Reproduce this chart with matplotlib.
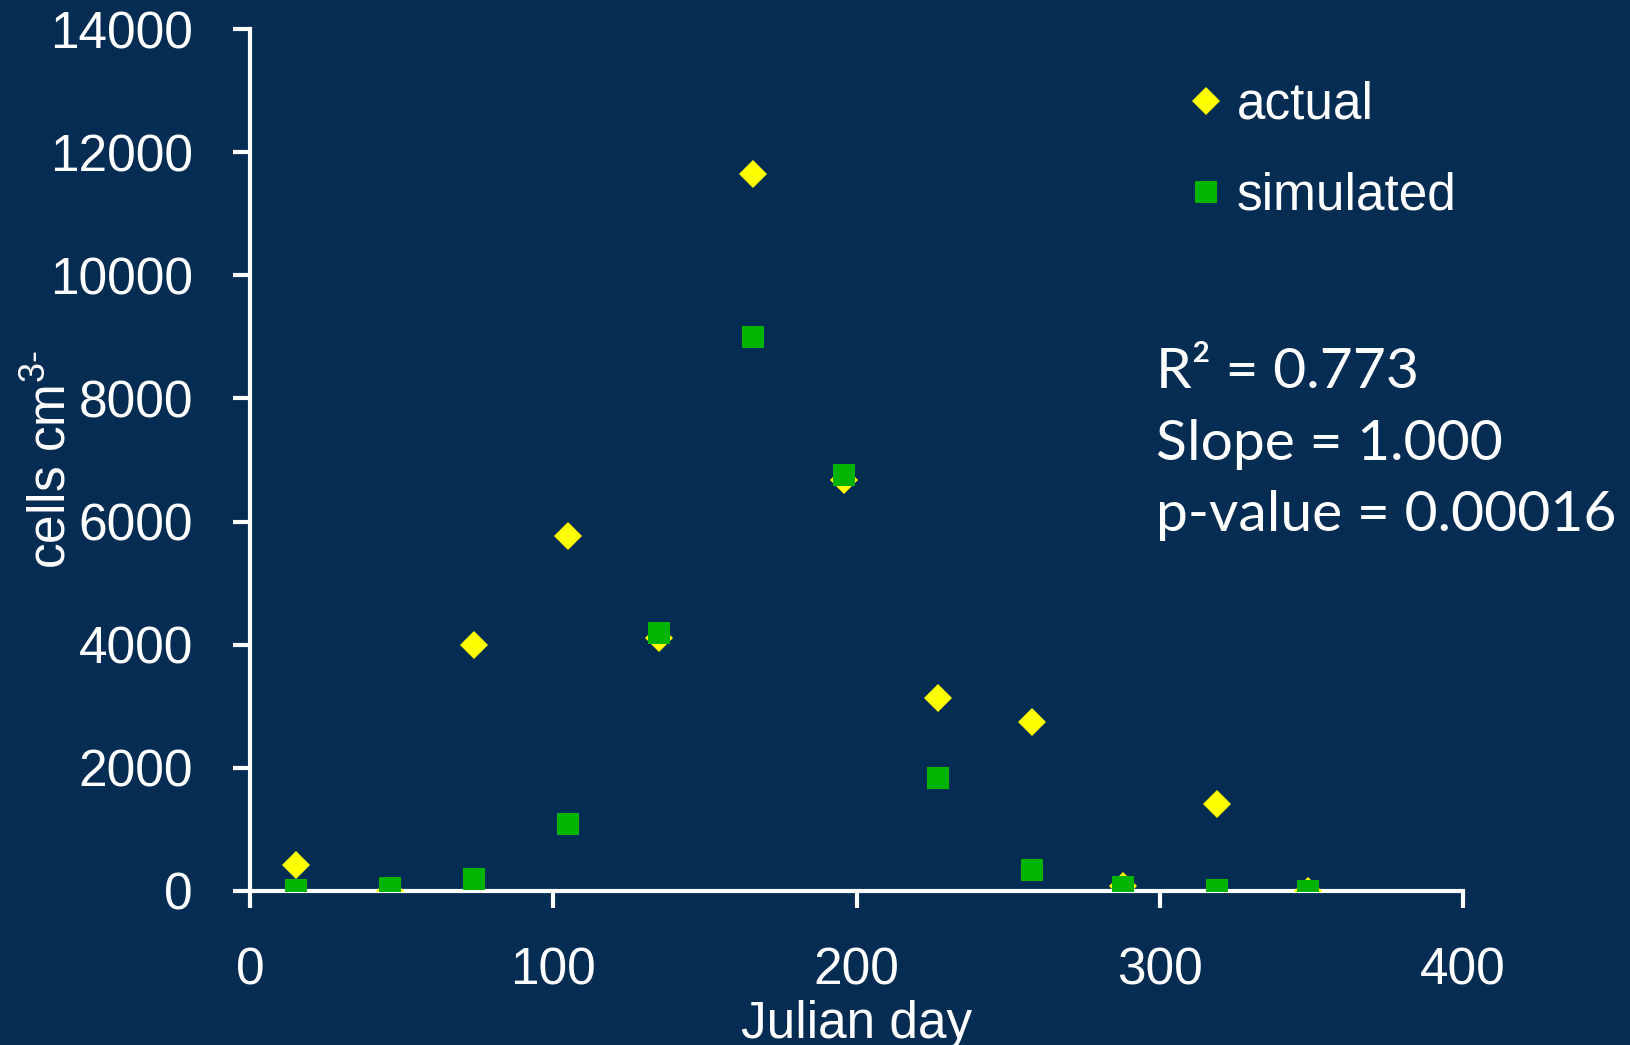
import matplotlib
matplotlib.use("Agg")
import matplotlib.pyplot as plt

# sampling days and cell counts
dias = [15, 46, 74, 105, 135, 166, 196, 227, 258, 288, 319, 349]
actual = [420, 0, 3990, 5760, 4110, 11650, 6680, 3130, 2740, 80, 1420, 0]
simulated = [10, 50, 200, 1080, 4190, 9000, 6760, 1840, 340, 70, 10, 5]

fundo = '#052c52'
plt.rcParams['font.family'] = ['Liberation Sans', 'DejaVu Sans']
plt.rcParams['mathtext.fontset'] = 'custom'
plt.rcParams['mathtext.rm'] = 'Liberation Sans'
plt.rcParams['mathtext.it'] = 'Liberation Sans'
plt.rcParams['mathtext.default'] = 'regular'

fig = plt.figure(figsize=(16.31, 10.45), dpi=100, facecolor=fundo)
ax = fig.add_axes([0.1533, 0.1474, 0.7437, 0.8248], facecolor=fundo)

ax.plot(dias, actual, linestyle='none', marker='D', markersize=14.5,
        color='#ffff00', markeredgewidth=0, label='actual', zorder=3)
ax.plot(dias, simulated, linestyle='none', marker='s', markersize=16,
        color='#00b400', markeredgewidth=0, label='simulated', zorder=4)

ax.set_xlim(0, 400)
ax.set_ylim(0, 14000)
ax.set_xticks([0, 100, 200, 300, 400])
ax.set_yticks(range(0, 14001, 2000))

for lado in ['top', 'right']:
    ax.spines[lado].set_visible(False)
for lado in ['left', 'bottom']:
    ax.spines[lado].set_color('white')
    ax.spines[lado].set_linewidth(3)

ax.tick_params(axis='both', colors='white', width=3, length=12,
               labelsize=37, direction='out')
ax.tick_params(axis='y', pad=29)
ax.tick_params(axis='x', pad=28)

ax.set_xlabel('Julian day', color='white', fontsize=37, labelpad=3)
ax.set_ylabel(r'cells cm$^{3\text{-}}$', color='white', fontsize=37)
ax.yaxis.set_label_coords(-0.143, 0.5)

leg = ax.legend(loc='upper left', bbox_to_anchor=(0.75, 0.97),
                frameon=False, fontsize=37, handlelength=0.8,
                handletextpad=0.2, labelspacing=0.82, borderpad=0)
for t in leg.get_texts():
    t.set_color('white')

fig.text(0.709, 0.575, 'R² = 0.773\nSlope = 1.000\np-value = 0.00016',
         color='white', fontsize=41, family='Lato', linespacing=1.5,
         ha='left', va='center')

plt.savefig('out.png', dpi=100, facecolor=fundo)
